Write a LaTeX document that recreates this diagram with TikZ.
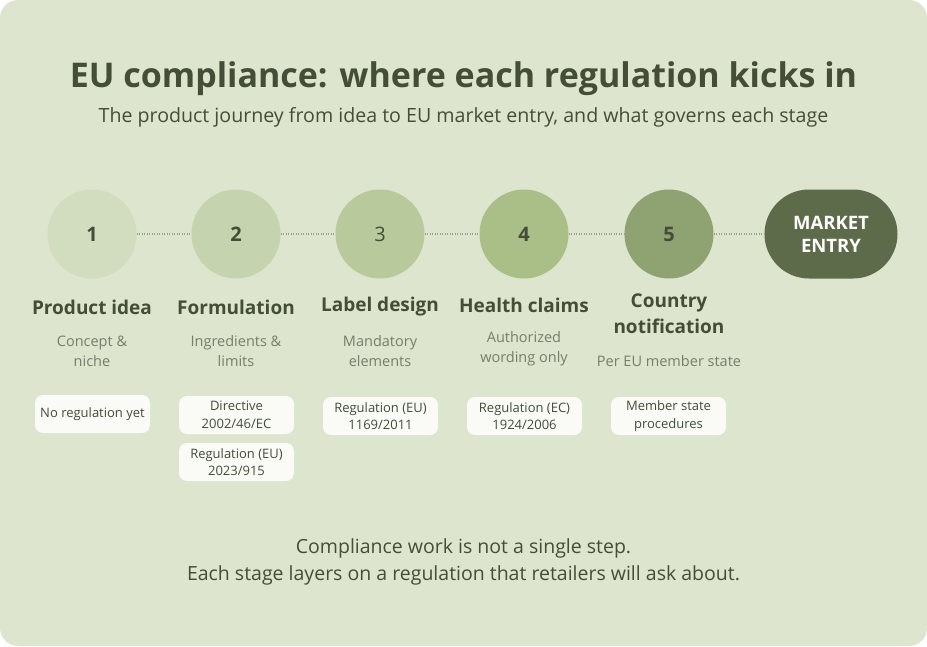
\documentclass[tikz,border=0pt]{standalone}
\usepackage{fontspec}
\setmainfont{Open Sans}
\usetikzlibrary{shapes.misc}
\definecolor{bgc}{HTML}{DDE5CE}
\definecolor{dark}{HTML}{434D37}
\definecolor{subc}{HTML}{767D6C}
\definecolor{dotc}{HTML}{9AA38A}
\definecolor{cA}{HTML}{D2DDBF}
\definecolor{cB}{HTML}{C5D3AE}
\definecolor{cC}{HTML}{B8CA9C}
\definecolor{cD}{HTML}{AABF87}
\definecolor{cE}{HTML}{8FA272}
\definecolor{cM}{HTML}{5E6B4A}
\definecolor{boxc}{HTML}{FAFAF6}
\tikzset{
  stage/.style={circle, minimum size=89pt, inner sep=0pt, text=dark, font=\fontsize{20}{24}\selectfont\bfseries},
  ttl/.style={text=dark, font=\fontsize{19}{26}\selectfont\bfseries, align=center},
  sub/.style={text=subc, font=\fontsize{14.5}{20}\selectfont, align=center},
  reg/.style={fill=boxc, rounded corners=8pt, minimum width=115pt, minimum height=38pt, inner sep=0pt, text=dark, font=\fontsize{13}{17.5}\selectfont, align=center},
  conn/.style={dotc, line width=1.2pt, dash pattern=on 1.2pt off 1.3pt}
}
\begin{document}
\begin{tikzpicture}[x=1pt,y=-1pt]
\useasboundingbox (0,0) rectangle (927,646);
\fill[bgc, rounded corners=18pt] (0,0) rectangle (927,646);
\node[text=dark, font=\fontsize{34}{40}\selectfont\bfseries] (title) at (463.5,79) {EU compliance: where each regulation kicks in};
\node[text=dark, font=\fontsize{19.6}{24}\selectfont] (subtitle) at (463.5,117) {The product journey from idea to EU market entry, and what governs each stage};

\node[stage, fill=cA] (s1) at (92,234) {1};
\node[stage, fill=cB] (s2) at (236,234) {2};
\node[stage, fill=cC, font=\fontsize{20}{24}\selectfont] (s3) at (380,234) {3};
\node[stage, fill=cD] (s4) at (524,234) {4};
\node[stage, fill=cE] (s5) at (669,234) {5};
\node[fill=cM, rounded rectangle, minimum width=133pt, minimum height=89pt, inner sep=0pt, text=white, font=\fontsize{18.5}{23}\selectfont\bfseries, align=center] (m) at (831,234) {MARKET\\ENTRY};

\draw[conn] (s1) -- (s2);
\draw[conn] (s2) -- (s3);
\draw[conn] (s3) -- (s4);
\draw[conn] (s4) -- (s5);
\draw[conn] (s5.east) -- (s5.east -| m.west);

\node[ttl] (t1) at (92,307) {Product idea};
\node[ttl] (t2) at (236,307) {Formulation};
\node[ttl] (t3) at (380,307) {Label design};
\node[ttl] (t4) at (524,305) {Health claims};
\node[ttl] (t5) at (669,313.5) {Country\\notification};

\node[sub] (d1) at (92,351) {Concept \&\\niche};
\node[sub] (d2) at (236,351) {Ingredients \&\\limits};
\node[sub] (d3) at (380,351) {Mandatory\\elements};
\node[sub] (d4) at (524,349) {Authorized\\wording only};
\node[sub] (d5) at (669,361) {Per EU member state};

\node[reg] (r1) at (92.5,414) {No regulation yet};
\node[reg] (r2a) at (236.5,415) {Directive\\2002/46/EC};
\node[reg] (r2b) at (236.5,462) {Regulation (EU)\\2023/915};
\node[reg] (r3) at (380.5,416) {Regulation (EU)\\1169/2011};
\node[reg] (r4) at (524.5,416) {Regulation (EC)\\1924/2006};
\node[reg] (r5) at (668.5,416) {Member state\\procedures};

\node[text=dark, font=\fontsize{19.5}{27}\selectfont, align=center] (foot) at (463.5,561.5) {Compliance work is not a single step.\\Each stage layers on a regulation that retailers will ask about.};
\end{tikzpicture}
\end{document}
